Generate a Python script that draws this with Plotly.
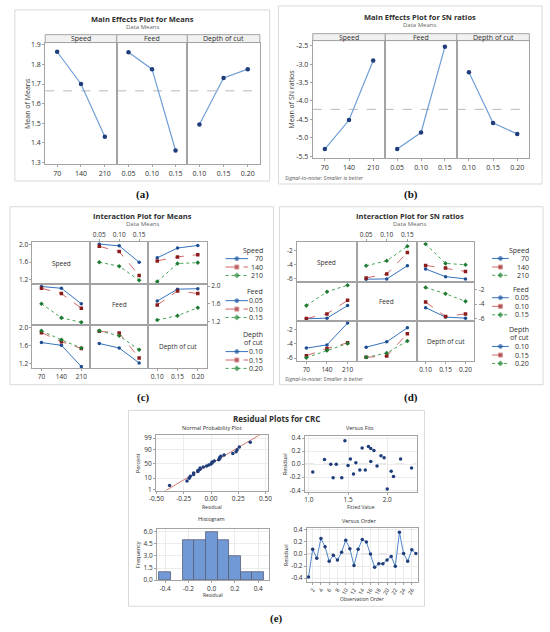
import numpy as np
import plotly.graph_objects as go
from statistics import NormalDist

# ---------------- data ----------------
speed_lv = ["70", "140", "210"]
feed_lv = ["0.05", "0.10", "0.15"]
depth_lv = ["0.10", "0.15", "0.20"]
factor_names = ["Speed", "Feed", "Depth of cut"]

# (a) main effects for means
me_means_speed = [1.865, 1.700, 1.430]
me_means_feed = [1.862, 1.776, 1.360]
me_means_depth = [1.493, 1.731, 1.776]
me_means_grand = 1.665

# (b) main effects for SN ratios
me_sn_speed = [-5.31, -4.52, -2.90]
me_sn_feed = [-5.31, -4.86, -2.53]
me_sn_depth = [-3.22, -4.60, -4.90]
me_sn_grand = -4.23

# (c) interaction means  (one list per level of the grouping factor)
im_feed_by_speed = [[2.01, 1.97, 1.60], [1.96, 1.84, 1.30], [1.60, 1.51, 1.19]]
im_depth_by_speed = [[1.70, 1.92, 1.98], [1.63, 1.72, 1.77], [1.16, 1.57, 1.59]]
im_speed_by_feed = [[1.99, 1.95, 1.60], [1.95, 1.83, 1.50], [1.60, 1.28, 1.18]]
im_depth_by_feed = [[1.66, 1.93, 1.94], [1.57, 1.89, 1.83], [1.23, 1.33, 1.51]]
im_speed_by_depth = [[1.67, 1.61, 1.14], [1.89, 1.69, 1.54], [1.93, 1.73, 1.55]]
im_feed_by_depth = [[1.65, 1.55, 1.22], [1.92, 1.88, 1.33], [1.93, 1.82, 1.51]]

# (d) interaction SN ratios
isn_feed_by_speed = [[-6.03, -5.99, -4.16], [-5.85, -5.30, -2.32], [-4.16, -3.47, -1.45]]
isn_depth_by_speed = [[-4.61, -5.67, -5.99], [-4.11, -4.48, -4.94], [-1.13, -3.83, -4.02]]
isn_speed_by_feed = [[-6.03, -5.94, -4.20], [-5.99, -5.35, -3.47], [-4.20, -2.28, -1.36]]
isn_depth_by_feed = [[-4.48, -5.80, -5.94], [-3.70, -5.71, -5.35], [-1.68, -2.55, -3.61]]
isn_speed_by_depth = [[-4.61, -4.16, -1.13], [-5.67, -4.66, -3.88], [-5.94, -4.93, -3.97]]
isn_feed_by_depth = [[-4.48, -3.74, -1.77], [-5.89, -5.71, -2.60], [-5.89, -5.30, -3.61]]

# (e) residuals for CRC
resid_order = [-0.38, 0.08, -0.07, 0.26, 0.12, -0.12, -0.02, -0.10, 0.03, 0.23,
               0.09, -0.19, 0.08, 0.24, 0.20, 0.00, -0.22, -0.16, -0.16, -0.10,
               -0.04, -0.20, 0.36, 0.01, -0.12, 0.07, 0.01]
fits = [1.05, 1.20, 1.28, 1.31, 1.35, 1.42, 1.46, 1.50, 1.53, 1.57, 1.60, 1.65, 1.68,
        1.72, 1.76, 1.79, 1.79, 1.83, 1.87, 1.92, 1.96, 2.00, 2.05, 2.08, 2.17, 2.31]
fits_resid = [-0.12, 0.07, 0.00, -0.21, 0.00, -0.21, 0.36, -0.02, 0.08, -0.15, 0.02, -0.09, 0.25,
              -0.09, 0.27, 0.24, 0.04, 0.21, -0.03, 0.13, 0.10, -0.38, -0.11, -0.19, 0.08, -0.06]
pct_ticks = [1, 10, 50, 90, 99]
order_ticks = [2, 4, 6, 8, 10, 12, 14, 16, 18, 20, 22, 24, 26]

# ---------------- helpers ----------------
W, H = 550, 632
FONT = "Open Sans"
INK = "#2e2e2e"
BOX = "#a3a3a3"
FRAME = "#d9d9d9"

layout = dict(width=W, height=H, margin=dict(l=0, r=0, t=0, b=0),
              paper_bgcolor="white", plot_bgcolor="rgba(0,0,0,0)",
              showlegend=False, bargap=0,
              font=dict(family=FONT, size=7, color=INK))
shapes, notes = [], []
fig = go.Figure()
n_axes = [0]


def fx(x):
    return x / W


def fy(y):
    return 1 - y / H


def label(x, y, s, size=7, color=INK, xanchor="center", angle=0, family=FONT):
    notes.append(dict(x=fx(x), y=fy(y), xref="paper", yref="paper", text=s,
                      showarrow=False, xanchor=xanchor, yanchor="middle",
                      textangle=angle, font=dict(size=size, color=color, family=family)))


def box(x0, y0, x1, y1, color=FRAME, fill="rgba(0,0,0,0)"):
    shapes.append(dict(type="rect", xref="paper", yref="paper",
                       x0=fx(x0), x1=fx(x1), y0=fy(y1), y1=fy(y0),
                       line=dict(color=color, width=1), fillcolor=fill, layer="below"))


def subplot(x0, x1, y0, y1, xr, yr, xkw=None, ykw=None):
    n_axes[0] += 1
    k = "" if n_axes[0] == 1 else str(n_axes[0])
    base = dict(showgrid=False, zeroline=False, showline=True, mirror=True,
                linecolor=BOX, linewidth=1, ticks="", ticklen=2, tickcolor=BOX,
                showticklabels=False, tickfont=dict(size=7, color=INK), fixedrange=True)
    xa = dict(base, domain=[fx(x0), fx(x1)], range=xr, anchor="y" + k)
    ya = dict(base, domain=[fy(y1), fy(y0)], range=yr, anchor="x" + k)
    xa.update(xkw or {})
    ya.update(ykw or {})
    layout["xaxis" + k] = xa
    layout["yaxis" + k] = ya
    return "x" + k, "y" + k


def main_effects(facets, strip, y0, y1, yr, yticks, series, grand, ytitle, ytitle_x):
    first_y = None
    for i, ((x0, x1), (lv, vals, name)) in enumerate(zip(facets, series)):
        pos = list(range(len(lv)))
        xk = dict(tickvals=pos, ticktext=lv, showticklabels=True, ticks="outside")
        yk = dict(tickvals=yticks, ticktext=[f"{v:.1f}" for v in yticks])
        if i == 0:
            yk.update(showticklabels=True, ticks="outside")
        xa, ya = subplot(x0, x1, y0, y1, [-0.5, len(lv) - 0.5], yr, xk, yk)
        first_y = first_y or ya
        fig.add_trace(go.Scatter(x=pos, y=vals, xaxis=xa, yaxis=ya, mode="lines+markers",
                                 line=dict(color="#6f9fd6", width=1.2),
                                 marker=dict(color="#1f3d7a", size=4.5)))
        box(x0, strip[0], x1, strip[1], color=BOX, fill="#f1f1f1")
        label((x0 + x1) / 2, sum(strip) / 2, name, size=7)
    shapes.append(dict(type="line", xref="paper", yref=first_y,
                       x0=fx(facets[0][0]), x1=fx(facets[-1][1]), y0=grand, y1=grand,
                       line=dict(color="#b8b8b8", width=1, dash="dash"), layer="below"))
    label(ytitle_x, (y0 + y1) / 2, ytitle, size=7, angle=-90)


STY = [dict(line="#3473bd", mk="#1d4c91", dash="solid", sym="circle"),
       dict(line="#d2666a", mk="#8c1c1c", dash="dash", sym="square"),
       dict(line="#44a354", mk="#1e7a33", dash="dot", sym="diamond")]
levels = [speed_lv, feed_lv, depth_lv]


def interaction(cols, rows, yr, yticks, ytext, cells):
    for r in range(3):
        for c in range(3):
            pos = list(range(3))
            xk = dict(tickvals=pos, ticktext=levels[c], tickfont=dict(size=6.5, color=INK))
            yk = dict(tickvals=yticks, ticktext=ytext, tickfont=dict(size=6.5, color=INK))
            if r == 2 and c != 1:
                xk.update(showticklabels=True, ticks="outside")
            if r == 0 and c == 1:
                xk.update(showticklabels=True, ticks="outside", side="top")
            if c == 0 and r != 1:
                yk.update(showticklabels=True, ticks="outside")
            if c == 2 and r == 1:
                yk.update(showticklabels=True, ticks="outside", side="right")
            xa, ya = subplot(cols[c][0], cols[c][1], rows[r][0], rows[r][1],
                             [-0.45, 2.45], yr, xk, yk)
            if r == c:
                # empty placeholder so the diagonal cell and its axes are drawn
                fig.add_trace(go.Scatter(x=[None], y=[None], xaxis=xa, yaxis=ya, mode="markers",
                                         hoverinfo="skip"))
                label(sum(cols[c]) / 2, sum(rows[r]) / 2, factor_names[r], size=6.5)
                continue
            for k, vals in enumerate(cells[(r, c)]):
                s = STY[k]
                fig.add_trace(go.Scatter(x=pos, y=vals, xaxis=xa, yaxis=ya, mode="lines+markers",
                                         line=dict(color=s["line"], width=1, dash=s["dash"]),
                                         marker=dict(color=s["mk"], size=3.5, symbol=s["sym"])))


def legend(lx, ly, kx0, kx1, tx, title_ys, item_ys):
    titles = [["Speed"], ["Feed"], ["Depth", "of cut"]]
    for g in range(3):
        for t, yy in zip(titles[g], title_ys[g]):
            label(tx, yy, t, size=7, xanchor="right")
        for k, (lv, yy) in enumerate(zip(levels[g], item_ys[g])):
            s = STY[k]
            label(tx, yy, lv, size=7, xanchor="right")
            fig.add_trace(go.Scatter(x=[kx0, (kx0 + kx1) / 2, kx1], y=[yy] * 3, xaxis=lx, yaxis=ly,
                                     mode="lines+markers", hoverinfo="skip",
                                     line=dict(color=s["line"], width=1, dash=s["dash"]),
                                     marker=dict(color=s["mk"], size=[0, 4, 0], symbol=s["sym"])))


# ---------------- (a) ----------------
box(8, 7, 268, 180)
label(138, 16, "<b>Main Effects Plot for Means</b>", size=7.5)
label(138, 24, "Data Means", size=6, color="#666")
main_effects([(39, 112), (112, 184), (184, 258)], (32, 40), 40, 163, [1.29, 1.912],
             [1.3, 1.4, 1.5, 1.6, 1.7, 1.8, 1.9],
             [(speed_lv, me_means_speed, "Speed"), (feed_lv, me_means_feed, "Feed"),
              (depth_lv, me_means_depth, "Depth of cut")],
             me_means_grand, "Mean of Means", 21)
label(138, 194, "<b>(a)</b>", size=11, family="Liberation Serif", color="#111")

# ---------------- (b) ----------------
box(277, 3, 546, 183)
label(421, 14, "<b>Main Effects Plot for SN ratios</b>", size=7.5)
label(421, 22, "Data Means", size=6, color="#666")
main_effects([(312, 386), (386, 459), (459, 533)], (31, 38), 38, 157, [-5.56, -2.36],
             [-5.5, -5.0, -4.5, -4.0, -3.5, -3.0, -2.5],
             [(speed_lv, me_sn_speed, "Speed"), (feed_lv, me_sn_feed, "Feed"),
              (depth_lv, me_sn_depth, "Depth of cut")],
             me_sn_grand, "Mean of SN ratios", 290)
label(282, 177, "<i>Signal-to-noise: Smaller is better</i>", size=5.5, color="#555", xanchor="left")
label(412, 194, "<b>(b)</b>", size=11, family="Liberation Serif", color="#111")

# legend canvas in pixel units
lx, ly = subplot(0, W, 0, H, [0, W], [H, 0], dict(visible=False), dict(visible=False))

# ---------------- (c) ----------------
box(3, 206, 272, 386)
label(138, 215, "<b>Interaction Plot for Means</b>", size=7.5)
label(138, 223, "Data Means", size=6, color="#666")
cells_c = {(0, 1): im_feed_by_speed, (0, 2): im_depth_by_speed,
           (1, 0): im_speed_by_feed, (1, 2): im_depth_by_feed,
           (2, 0): im_speed_by_depth, (2, 1): im_feed_by_depth}
interaction([(26, 85), (85, 144), (144, 204)], [(242, 284), (284, 326), (326, 369)],
            [1.11, 2.05], [1.2, 1.6, 2.0], ["1.2", "1.6", "2.0"], cells_c)
legend(lx, ly, 223, 246, 263,
       [[250], [292], [335, 343.5]],
       [[258.5, 267, 275.5], [301, 309.5, 318], [352.5, 361, 369.5]])
label(139, 399, "<b>(c)</b>", size=11, family="Liberation Serif", color="#111")

# ---------------- (d) ----------------
box(278, 206, 547, 386)
label(411, 215, "<b>Interaction Plot for SN ratios</b>", size=7.5)
label(411, 223, "Data Means", size=6, color="#666")
cells_d = {(0, 1): isn_feed_by_speed, (0, 2): isn_depth_by_speed,
           (1, 0): isn_speed_by_feed, (1, 2): isn_depth_by_feed,
           (2, 0): isn_speed_by_depth, (2, 1): isn_feed_by_depth}
interaction([(296, 357), (357, 418), (418, 477)], [(242, 282), (282, 322), (322, 362)],
            [-6.4, -0.9], [-6, -4, -2], ["-6", "-4", "-2"], cells_d)
legend(lx, ly, 495, 512, 535,
       [[250], [289.3], [330, 338.7]],
       [[258.3, 267, 275.3], [298, 306.7, 315.3], [347.3, 356, 364.5]])
label(282, 380, "<i>Signal-to-noise: Smaller is better</i>", size=5.5, color="#555", xanchor="left")
label(412, 399, "<b>(d)</b>", size=11, family="Liberation Serif", color="#111")

# ---------------- (e) ----------------
box(124, 412, 426, 610)
label(275, 420, "<b>Residual Plots for CRC</b>", size=8)
NAVY = "#1f3d7a"
GRID = "#ececec"
tf = dict(size=6.5, color=INK)
ek = dict(showgrid=True, gridcolor=GRID, gridwidth=0.6, showticklabels=True,
          ticks="outside", tickfont=tf)

# normal probability plot
nd = NormalDist()
r_sorted = np.sort(resid_order)
n = len(r_sorted)
pp = (np.arange(1, n + 1) - 0.3) / (n + 0.4)
zq = [nd.inv_cdf(p) for p in pp]
mu, sd = np.mean(resid_order), np.std(resid_order, ddof=1)
line_x = np.array([-0.6, 0.6])
xa, ya = subplot(152, 266, 437, 493, [-0.505, 0.52], [-2.4, 2.6],
                 dict(ek, tickvals=[-0.5, -0.25, 0, 0.25, 0.5],
                      ticktext=["-0.50", "-0.25", "0.00", "0.25", "0.50"]),
                 dict(ek, tickvals=[nd.inv_cdf(p / 100) for p in pct_ticks],
                      ticktext=[str(p) for p in pct_ticks]))
fig.add_trace(go.Scatter(x=line_x, y=(line_x - mu) / sd, xaxis=xa, yaxis=ya, mode="lines",
                         line=dict(color="#d27a72", width=1)))
fig.add_trace(go.Scatter(x=r_sorted, y=zq, xaxis=xa, yaxis=ya, mode="markers",
                         marker=dict(color=NAVY, size=3.5)))
label(209, 430, "Normal Probability Plot", size=5.5)
label(209, 510, "Residual", size=5)
label(134, 465, "Percent", size=5.5, angle=-90)

# versus fits
xa, ya = subplot(304, 418, 438, 494, [0.95, 2.375], [-0.42, 0.43],
                 dict(ek, tickvals=[1.0, 1.5, 2.0], ticktext=["1.0", "1.5", "2.0"]),
                 dict(ek, tickvals=[-0.4, -0.2, 0.0, 0.2, 0.4],
                      ticktext=["-0.4", "-0.2", "0.0", "0.2", "0.4"]))
shapes.append(dict(type="line", xref=xa + " domain", yref=ya, x0=0, x1=1, y0=0, y1=0,
                   line=dict(color="#b8b8b8", width=1, dash="dash"), layer="below"))
fig.add_trace(go.Scatter(x=fits, y=fits_resid, xaxis=xa, yaxis=ya, mode="markers",
                         marker=dict(color=NAVY, size=3.5)))
label(360, 430, "Versus Fits", size=5.5)
label(361, 510, "Fitted Value", size=5)
label(284, 466, "Residual", size=5.5, angle=-90)

# histogram
xa, ya = subplot(153, 267, 532, 583.5, [-0.47, 0.49], [0, 6.35],
                 dict(ek, tickvals=[-0.4, -0.2, 0.0, 0.2, 0.4],
                      ticktext=["-0.4", "-0.2", "0.0", "0.2", "0.4"]),
                 dict(ek, tickvals=[0, 1.5, 3.0, 4.5, 6.0],
                      ticktext=["0.0", "1.5", "3.0", "4.5", "6.0"]))
fig.add_trace(go.Histogram(x=resid_order, xaxis=xa, yaxis=ya,
                           xbins=dict(start=-0.45, end=0.45, size=0.1),
                           marker=dict(color="#7099d6", line=dict(color="#55627a", width=0.8))))
label(209, 522, "Histogram", size=5.5)
label(210, 599, "Residual", size=5)
label(133, 558, "Frequency", size=5.5, angle=-90)

# versus order
xa, ya = subplot(306, 419, 531, 585, [0.6, 27.4], [-0.455, 0.43],
                 dict(ek, tickvals=order_ticks, ticktext=[str(t) for t in order_ticks],
                      tickangle=-60, tickfont=dict(size=5.5, color=INK)),
                 dict(ek, tickvals=[-0.4, -0.2, 0.0, 0.2, 0.4],
                      ticktext=["-0.4", "-0.2", "0.0", "0.2", "0.4"]))
shapes.append(dict(type="line", xref=xa + " domain", yref=ya, x0=0, x1=1, y0=0, y1=0,
                   line=dict(color="#b8b8b8", width=1, dash="dash"), layer="below"))
fig.add_trace(go.Scatter(x=list(range(1, len(resid_order) + 1)), y=resid_order, xaxis=xa, yaxis=ya,
                         mode="lines+markers", line=dict(color="#4f86c8", width=1),
                         marker=dict(color=NAVY, size=3.5)))
label(360, 524, "Versus Order", size=5.5)
label(362, 603, "Observation Order", size=5)
label(284, 558, "Residual", size=5.5, angle=-90)
label(275, 622, "<b>(e)</b>", size=11, family="Liberation Serif", color="#111")

layout["shapes"] = shapes
layout["annotations"] = notes
fig.update_layout(layout)
fig.write_html("out.html", config={"displayModeBar": False},
               post_script="document.body.style.margin='0px';")
